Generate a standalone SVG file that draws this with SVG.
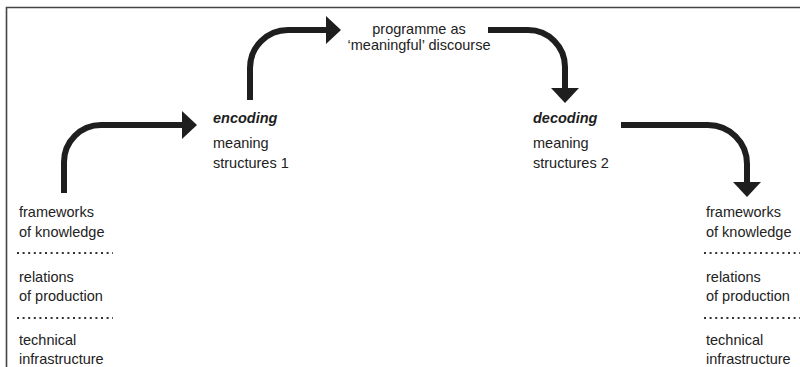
<svg xmlns="http://www.w3.org/2000/svg" width="800" height="367" viewBox="0 0 800 367">
<style>
text{font-family:"Liberation Sans",Arial,sans-serif;font-size:14.5px;fill:#222}
.em{font-weight:bold;font-style:italic;fill:#1e1e1e}
.arr{fill:none;stroke:#1e1e1e;stroke-width:6}
.dots{stroke:#333;stroke-width:2;stroke-dasharray:2 3.6}
.frame{stroke:#444;stroke-width:1.6;fill:none}
</style>
<defs>
<marker id="ah" markerUnits="userSpaceOnUse" markerWidth="16" markerHeight="28" refX="0" refY="14" orient="auto" overflow="visible">
<path d="M0,0 L15,14 L0,28 Z" fill="#1e1e1e"/>
</marker>
</defs>
<rect width="800" height="367" fill="#fff"/>
<path class="frame" d="M6.5,367 V7.5 H800"/>
<g id="connectors">
<path class="arr" d="M64,193 V162 A37,37 0 0 1 101,125 H182" marker-end="url(#ah)"/>
<path class="arr" d="M250,100 V68 A38,38 0 0 1 288,30 H326" marker-end="url(#ah)"/>
<path class="arr" d="M488,30 H528 A37,37 0 0 1 565,67 V88" marker-end="url(#ah)"/>
<path class="arr" d="M621,125 H708 A39,39 0 0 1 747,164 V182" marker-end="url(#ah)"/>
</g>
<g id="left-stack">
<text x="19" y="217">frameworks</text>
<text x="19" y="237">of knowledge</text>
<line class="dots" x1="17" y1="253" x2="113" y2="253"/>
<text x="19" y="282">relations</text>
<text x="19" y="301">of production</text>
<line class="dots" x1="17" y1="318" x2="113" y2="318"/>
<text x="19" y="345">technical</text>
<text x="19" y="364">infrastructure</text>
</g>
<g id="encoding">
<text class="em" x="213" y="123">encoding</text>
<text x="213" y="148">meaning</text>
<text x="213" y="168">structures 1</text>
</g>
<g id="programme">
<text x="419" y="34" text-anchor="middle">programme as</text>
<text x="419" y="50" text-anchor="middle">‘meaningful’ discourse</text>
</g>
<g id="decoding">
<text class="em" x="533" y="123">decoding</text>
<text x="533" y="148">meaning</text>
<text x="533" y="168">structures 2</text>
</g>
<g id="right-stack">
<text x="706" y="217">frameworks</text>
<text x="706" y="237">of knowledge</text>
<line class="dots" x1="704" y1="253" x2="800" y2="253"/>
<text x="706" y="282">relations</text>
<text x="706" y="301">of production</text>
<line class="dots" x1="704" y1="318" x2="800" y2="318"/>
<text x="706" y="345">technical</text>
<text x="706" y="364">infrastructure</text>
</g>
</svg>
